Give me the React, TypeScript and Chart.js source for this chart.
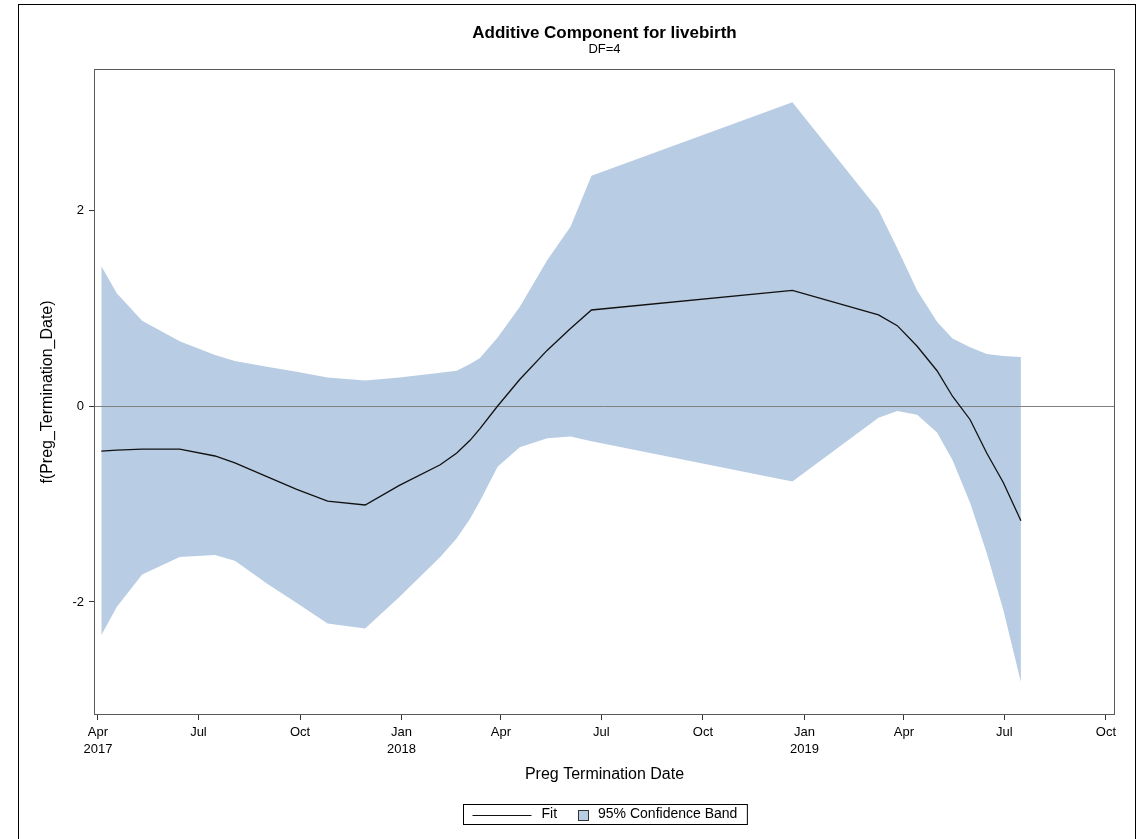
import React, { useEffect, useRef } from "react";
import { Chart, registerables } from "chart.js";

Chart.register(...registerables);

const FONT = "'Liberation Sans', Arial, Helvetica, sans-serif";

// Observation dates (Preg Termination Date)
const dates = [
  "2017-04-04", "2017-04-18", "2017-05-11", "2017-06-14", "2017-07-16",
  "2017-08-03", "2017-09-01", "2017-09-28", "2017-10-26", "2017-11-29",
  "2017-12-30", "2018-02-05", "2018-02-20", "2018-03-04", "2018-03-13",
  "2018-03-29", "2018-04-18", "2018-05-13", "2018-06-03", "2018-06-22",
  "2018-12-21", "2019-03-09", "2019-03-26", "2019-04-13", "2019-05-01",
  "2019-05-15", "2019-05-31", "2019-06-15", "2019-06-30", "2019-07-16",
];

const fit = [
  -0.46, -0.45, -0.44, -0.44, -0.51, -0.58, -0.72, -0.85, -0.97, -1.01,
  -0.81, -0.60, -0.48, -0.35, -0.23, 0.0, 0.27, 0.57, 0.79, 0.98,
  1.18, 0.93, 0.82, 0.61, 0.36, 0.10, -0.14, -0.48, -0.78, -1.17,
];

const upper = [
  1.43, 1.15, 0.87, 0.66, 0.52, 0.46, 0.40, 0.35, 0.29, 0.26,
  0.29, 0.34, 0.36, 0.43, 0.49, 0.70, 1.01, 1.49, 1.83, 2.35,
  3.10, 2.00, 1.61, 1.18, 0.86, 0.69, 0.60, 0.53, 0.51, 0.50,
];

const lower = [
  -2.34, -2.05, -1.72, -1.54, -1.52, -1.58, -1.81, -2.01, -2.22, -2.27,
  -1.95, -1.54, -1.35, -1.15, -0.97, -0.62, -0.42, -0.33, -0.31, -0.36,
  -0.77, -0.12, -0.05, -0.09, -0.27, -0.55, -0.99, -1.50, -2.08, -2.82,
];

const tickDates = [
  "2017-04-01", "2017-07-01", "2017-10-01", "2018-01-01", "2018-04-01", "2018-07-01",
  "2018-10-01", "2019-01-01", "2019-04-01", "2019-07-01", "2019-10-01",
];
const tickLabels: (string | string[])[] = [
  ["Apr", "2017"], "Jul", "Oct", ["Jan", "2018"], "Apr", "Jul",
  "Oct", ["Jan", "2019"], "Apr", "Jul", "Oct",
];
const yTicks = [-2, 0, 2];

const X_MIN = -2.7; // days from 2017-04-01
const X_MAX = 920.3;
const Y_MIN = -3.143;
const Y_MAX = 3.429;

const BAND = "#b8cce4";
const BASE = Date.UTC(2017, 3, 1);
const toDay = (s: string) => (Date.parse(s + "T00:00:00Z") - BASE) / 86400000;

const decor = {
  id: "decor",
  beforeDatasetDraw(chart: any, args: any) {
    if (args.index !== 0) return;
    const { ctx, chartArea: a, scales } = chart;
    const py = Math.round(scales.y.getPixelForValue(0)) + 0.5;
    ctx.save();
    ctx.strokeStyle = "#808080";
    ctx.lineWidth = 1;
    ctx.beginPath();
    ctx.moveTo(a.left, py);
    ctx.lineTo(a.right, py);
    ctx.stroke();
    ctx.restore();
  },
  afterDraw(chart: any) {
    const { ctx, chartArea: a } = chart;
    ctx.save();
    // plot frame
    ctx.strokeStyle = "#5a5a5a";
    ctx.lineWidth = 1;
    const l = Math.round(a.left) - 0.5;
    const t = Math.round(a.top) - 0.5;
    const r = Math.round(a.right) + 0.5;
    const b = Math.round(a.bottom) + 0.5;
    ctx.strokeRect(l, t, r - l, b - t);
    // outer border
    ctx.strokeStyle = "#000";
    ctx.strokeRect(18.5, 4.5, 1117, 900);

    const cx = (a.left + a.right) / 2;
    ctx.fillStyle = "#000";
    ctx.textAlign = "center";
    ctx.textBaseline = "middle";
    ctx.font = `bold 17px ${FONT}`;
    ctx.fillText("Additive Component for livebirth", cx, 33);
    ctx.font = `13px ${FONT}`;
    ctx.fillText("DF=4", cx, 49);

    // legend
    ctx.font = `14px ${FONT}`;
    const wFit = ctx.measureText("Fit").width;
    const bandLabel = "95% Confidence Band";
    const wBand = ctx.measureText(bandLabel).width;
    const total = 9 + 59 + 10 + wFit + 21 + 10 + 10 + wBand + 10;
    const lx = Math.round(cx - total / 2) + 0.5;
    const ly = 804.5;
    const lh = 20;
    const my = ly + lh / 2;
    ctx.strokeStyle = "#000";
    ctx.strokeRect(lx, ly, total, lh);
    let x = lx + 9;
    ctx.strokeStyle = "#111";
    ctx.beginPath();
    ctx.moveTo(x, Math.round(my) + 0.5);
    ctx.lineTo(x + 59, Math.round(my) + 0.5);
    ctx.stroke();
    x += 59 + 10;
    ctx.textAlign = "left";
    ctx.fillStyle = "#000";
    ctx.fillText("Fit", x, my);
    x += wFit + 21;
    ctx.fillStyle = BAND;
    ctx.fillRect(Math.round(x), Math.round(my - 5), 10, 10);
    ctx.strokeStyle = "#333";
    ctx.strokeRect(Math.round(x) + 0.5, Math.round(my - 5) + 0.5, 10, 10);
    x += 10 + 10;
    ctx.fillStyle = "#000";
    ctx.fillText(bandLabel, x, my);
    ctx.restore();
  },
};

export default function App() {
  const ref = useRef<HTMLCanvasElement | null>(null);

  useEffect(() => {
    if (!ref.current) return;
    const xs = dates.map(toDay);
    const chart = new Chart(ref.current, {
      type: "line",
      data: {
        datasets: [
          {
            label: "Fit",
            data: xs.map((x, i) => ({ x, y: fit[i] })),
            borderColor: "#111",
            borderWidth: 1.3,
            pointRadius: 0,
            fill: false,
            tension: 0,
          },
          {
            label: "lower",
            data: xs.map((x, i) => ({ x, y: lower[i] })),
            borderWidth: 0,
            borderColor: "rgba(0,0,0,0)",
            pointRadius: 0,
            fill: false,
            tension: 0,
          },
          {
            label: "95% Confidence Band",
            data: xs.map((x, i) => ({ x, y: upper[i] })),
            borderWidth: 0,
            borderColor: "rgba(0,0,0,0)",
            backgroundColor: BAND,
            pointRadius: 0,
            fill: "-1",
            tension: 0,
          },
        ],
      },
      options: {
        responsive: false,
        animation: false,
        events: [],
        layout: { padding: { left: 38.4, right: 22, top: 70, bottom: 54.4 } },
        plugins: {
          legend: { display: false },
          tooltip: { enabled: false },
          title: { display: false },
        },
        scales: {
          x: {
            type: "linear",
            min: X_MIN,
            max: X_MAX,
            afterBuildTicks: (s: any) => {
              s.ticks = tickDates.map((d) => ({ value: toDay(d) }));
            },
            afterFit: (s: any) => {
              s.height = 70.6;
            },
            ticks: {
              autoSkip: false,
              maxRotation: 0,
              padding: 4,
              color: "#000",
              font: { family: FONT, size: 13, lineHeight: 1.3 },
              callback: (_v: any, i: number) => tickLabels[i],
            },
            grid: { drawOnChartArea: false, drawTicks: true, tickLength: 6, color: "#333" },
            border: { display: false },
            title: {
              display: true,
              text: "Preg Termination Date",
              color: "#000",
              font: { family: FONT, size: 16 },
              padding: 0,
            },
          },
          y: {
            type: "linear",
            min: Y_MIN,
            max: Y_MAX,
            afterBuildTicks: (s: any) => {
              s.ticks = yTicks.map((v) => ({ value: v }));
            },
            afterFit: (s: any) => {
              s.width = 56.6;
            },
            ticks: {
              padding: 5,
              color: "#000",
              font: { family: FONT, size: 13 },
              callback: (v: any) => String(v),
            },
            grid: { drawOnChartArea: false, drawTicks: true, tickLength: 6, color: "#333" },
            border: { display: false },
            title: {
              display: true,
              text: "f(Preg_Termination_Date)",
              color: "#000",
              font: { family: FONT, size: 16 },
              padding: 0,
            },
          },
        },
      },
      plugins: [decor],
    } as any);
    return () => chart.destroy();
  }, []);

  return (
    <div style={{ position: "absolute", left: 0, top: 0, width: 1136, height: 839, background: "#fff" }}>
      <canvas ref={ref} width={1136} height={839} style={{ width: 1136, height: 839, display: "block" }} />
    </div>
  );
}
